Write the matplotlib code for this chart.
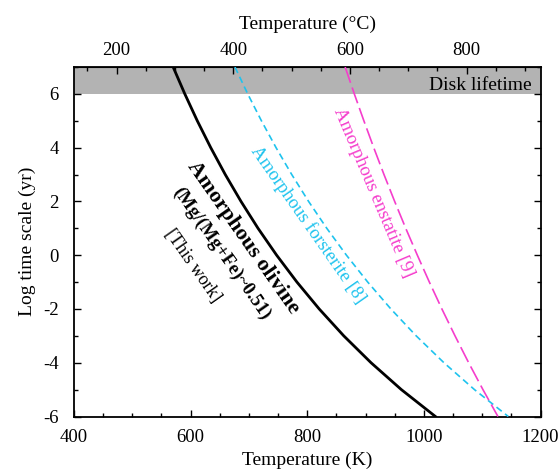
import matplotlib
matplotlib.use("Agg")
import matplotlib.pyplot as plt
from matplotlib.ticker import MultipleLocator, FixedLocator

plt.rcParams['font.family'] = ['Liberation Serif', 'DejaVu Serif']
plt.rcParams['axes.unicode_minus'] = False

# Data (T in K, log time scale in yr)
log_t = [7, 6, 5, 4, 3, 2, 1, 0, -1, -2, -3, -4, -5, -6]
T_olivine = [570.0, 590.0, 611.4, 634.5, 659.4, 686.4, 715.6, 747.5, 782.3,
             820.5, 862.6, 909.4, 961.4, 1019.8]
T_forsterite = [676.0, 697.9, 721.4, 746.5, 773.4, 802.3, 833.5, 867.2, 903.7,
                943.4, 986.8, 1034.4, 1086.8, 1144.8]
T_enstatite = [865.0, 880.7, 897.1, 914.0, 931.6, 949.9, 968.9, 988.8, 1009.4,
               1030.9, 1053.4, 1076.8, 1101.3, 1127.0]
disk_lifetime = (6, 7)
celsius_ticks = [200, 400, 600, 800]

fig = plt.figure(figsize=(5.58, 4.73), dpi=100)
ax = fig.add_axes([74/558, 1-416.5/473, 466.5/558, 349.5/473])

ax.axhspan(disk_lifetime[0], disk_lifetime[1], color='#b3b3b3', zorder=0, lw=0)
ax.text(0.982, 0.948, 'Disk lifetime', transform=ax.transAxes, ha='right',
        va='center', fontsize=14)

ax.plot(T_olivine, log_t, color='black', lw=2.0, zorder=3)
ax.plot(T_forsterite, log_t, color='#1ec3ee', lw=1.2, dashes=(4, 2.5), zorder=3)
ax.plot(T_enstatite, log_t, color='#f53dcc', lw=1.2, dashes=(10, 3), zorder=3)

ax.set_xlim(400, 1200)
ax.set_ylim(-6, 7)
ax.xaxis.set_major_locator(MultipleLocator(200))
ax.xaxis.set_minor_locator(MultipleLocator(50))
ax.yaxis.set_major_locator(MultipleLocator(2))
ax.yaxis.set_minor_locator(MultipleLocator(1))
ax.tick_params(which='both', direction='in', right=True, labelsize=13.5, width=1)
ax.tick_params(which='major', length=5)
ax.tick_params(which='minor', length=3)
ax.tick_params(axis='y', which='both', pad=11)
ax.tick_params(axis='x', which='both', top=False, pad=9)
for s in ax.spines.values():
    s.set_linewidth(1.3)

ax.set_xlabel('Temperature (K)', fontsize=14, labelpad=4)
ax.set_ylabel('Log time scale (yr)', fontsize=14, labelpad=5)

sec = ax.secondary_xaxis('top', functions=(lambda k: k - 273.15, lambda c: c + 273.15))
sec.xaxis.set_major_locator(FixedLocator(celsius_ticks))
sec.xaxis.set_minor_locator(MultipleLocator(50))
sec.tick_params(which='both', direction='in', labelsize=13.5, width=1, pad=6)
sec.tick_params(which='major', length=5)
sec.tick_params(which='minor', length=3)
sec.set_xlabel('Temperature (°C)', fontsize=14, labelpad=9)

ax.text(0.363, 0.511, 'Amorphous olivine', transform=ax.transAxes, rotation=-55,
        rotation_mode='anchor', ha='center', va='center', fontsize=16,
        fontweight='bold')
ax.text(0.315, 0.466, '(Mg/(Mg+Fe)~0.51)', transform=ax.transAxes, rotation=-55,
        rotation_mode='anchor', ha='center', va='center', fontsize=13.5,
        fontweight='bold')
ax.text(0.255, 0.431, '[This work]', transform=ax.transAxes, rotation=-55,
        rotation_mode='anchor', ha='center', va='center', fontsize=13)
ax.text(0.502, 0.549, 'Amorphous forsterite [8]', transform=ax.transAxes,
        rotation=-55, rotation_mode='anchor', ha='center', va='center',
        fontsize=13.5, color='#1ec3ee')
ax.text(0.642, 0.641, 'Amorphous enstatite [9]', transform=ax.transAxes,
        rotation=-67, rotation_mode='anchor', ha='center', va='center',
        fontsize=13.5, color='#f53dcc')

fig.savefig('out.png', dpi=100)
